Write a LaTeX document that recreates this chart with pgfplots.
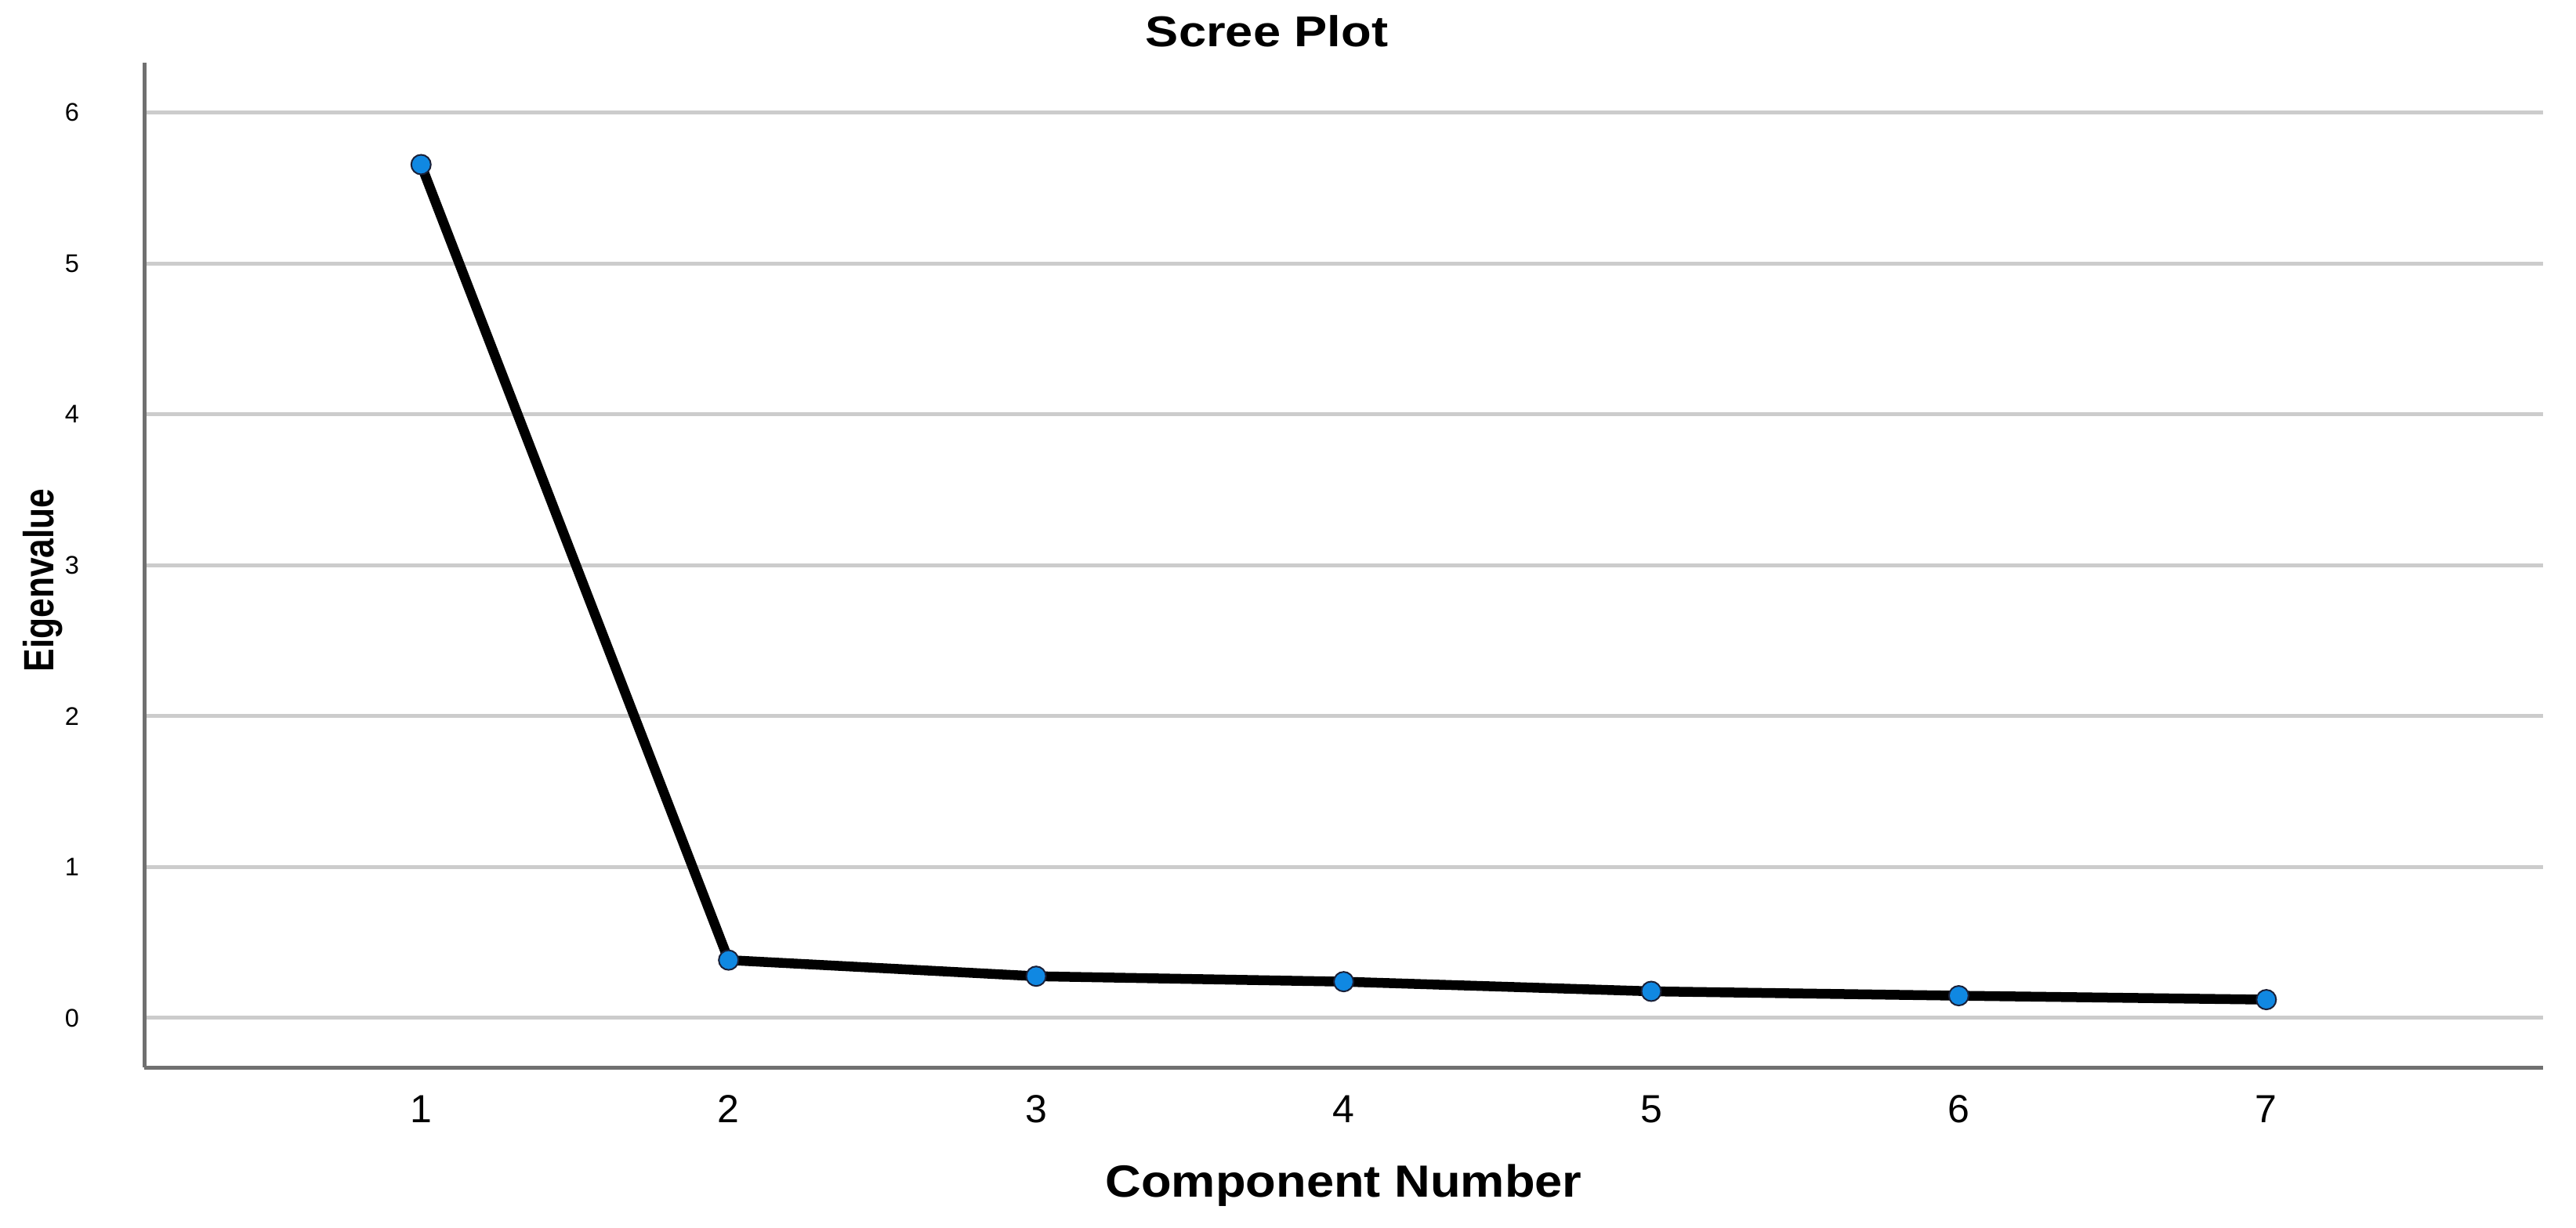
\documentclass[border=0pt]{standalone}
\usepackage{fontspec}
\setmainfont{Liberation Sans}
\usepackage{pgfplots}
\pgfplotsset{compat=1.18}

\definecolor{gridgray}{HTML}{CCCCCC}
\definecolor{axisgray}{HTML}{707070}
\definecolor{markblue}{HTML}{1088E2}
\definecolor{markedge}{HTML}{1A2038}

\begin{document}
\begin{tikzpicture}
\begin{axis}[
  name=ax,
  scale only axis,
  width=612pt, height=256.4pt,
  xmin=0.1, xmax=7.9, ymin=-0.33, ymax=6.33,
  xtick={1,2,3,4,5,6,7}, ytick={0,1,2,3,4,5,6},
  axis x line*=bottom, axis y line*=left,
  axis line style={-, axisgray, line width=1pt},
  major tick length=0pt,
  ymajorgrids, grid style={gridgray, line width=1pt},
  /pgf/number format/assume math mode=true,
  xticklabel style={font=\fontsize{10}{12}\selectfont, anchor=center, yshift=-10.6pt},
  yticklabel style={font=\fontsize{6.5}{8}\selectfont, anchor=center, xshift=-18.4pt},
  clip=false,
]
\addplot[black, line width=2.5pt, mark=*, mark size=2.5pt,
  mark options={fill=markblue, draw=markedge, line width=0.4pt}]
  coordinates {(1,5.655) (2,0.383) (3,0.276) (4,0.240) (5,0.176) (6,0.147) (7,0.121)};
% titles, a little wider than plain Arial as in the original
\node[font=\bfseries\fontsize{11}{13}\selectfont] at ([yshift=8pt]rel axis cs:0.468,1) {\scalebox{1.15}[1]{Scree Plot}};
\node[font=\bfseries\fontsize{11.5}{14}\selectfont] at ([yshift=-30pt]rel axis cs:0.5,0) {\scalebox{1.1}[1]{Component Number}};
\node[font=\bfseries\fontsize{10.8}{13}\selectfont, rotate=90] at ([xshift=-25.9pt]rel axis cs:0,0.485) {\scalebox{0.82}[1]{Eigenvalue}};
\end{axis}
\pgfresetboundingbox
\path ([shift={(-36.8pt,-40.8pt)}]ax.south west) rectangle ([shift={(8.4pt,16pt)}]ax.north east);
\end{tikzpicture}
\end{document}
